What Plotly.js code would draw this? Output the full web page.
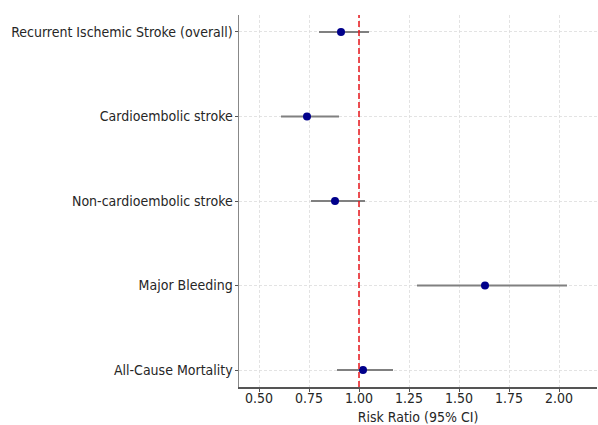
<!DOCTYPE html>
<html>
<head>
<meta charset="utf-8">
<script src="https://cdn.plot.ly/plotly-3.0.1.min.js"></script>
<style>html,body{margin:0;padding:0;background:#fff;}#chart{width:598px;height:425px;}</style>
</head>
<body>
<div id="chart"></div>
<script>
const outcomes = ["Recurrent Ischemic Stroke (overall)", "Cardioembolic stroke", "Non-cardioembolic stroke", "Major Bleeding", "All-Cause Mortality"];
const riskRatio = [0.91, 0.74, 0.88, 1.63, 1.02];
const ciLower = [0.80, 0.61, 0.76, 1.29, 0.89];
const ciUpper = [1.05, 0.90, 1.03, 2.04, 1.17];
const xTickVals = [0.50, 0.75, 1.00, 1.25, 1.50, 1.75, 2.00];
const xTickText = ["0.50", "0.75", "1.00", "1.25", "1.50", "1.75", "2.00"];

const n = outcomes.length;
const yPos = outcomes.map((_, i) => n - 1 - i);
const errPlus = riskRatio.map((v, i) => ciUpper[i] - v);
const errMinus = riskRatio.map((v, i) => v - ciLower[i]);

const font = "DejaVu Sans Condensed, DejaVu Sans, sans-serif";

const trace = {
  type: "scatter",
  mode: "markers",
  x: riskRatio,
  y: yPos,
  marker: {color: "#00008b", size: 8},
  error_x: {type: "data", symmetric: false, array: errPlus, arrayminus: errMinus,
            color: "#808080", thickness: 2, width: 0},
  hoverinfo: "skip",
  showlegend: false
};

const layout = {
  width: 598, height: 425,
  margin: {l: 239, r: 1, t: 15, b: 38},
  paper_bgcolor: "#ffffff", plot_bgcolor: "#ffffff",
  font: {family: font, size: 14, color: "#262626"},
  xaxis: {
    range: [0.4, 2.19],
    tickvals: xTickVals, ticktext: xTickText,
    showgrid: true, gridcolor: "#dcdcdc", gridwidth: 0.8, griddash: "3px,2px",
    zeroline: false, showline: true, linecolor: "#555555", linewidth: 1.5,
    ticks: "outside", ticklen: 3, tickcolor: "#555555",
    ticklabelstandoff: -5,
    tickfont: {family: font, size: 14, color: "#262626"},
    title: {text: "Risk Ratio (95% CI)", font: {family: font, size: 14, color: "#262626"}, standoff: 10}
  },
  yaxis: {
    range: [-0.2, 4.2],
    tickvals: yPos, ticktext: outcomes,
    showgrid: true, gridcolor: "#dcdcdc", gridwidth: 0.8, griddash: "3px,2px",
    zeroline: false, showline: true, linecolor: "#888888", linewidth: 1.5,
    ticks: "outside", ticklen: 3, tickcolor: "#555555",
    ticklabelstandoff: -1,
    tickfont: {family: font, size: 14, color: "#262626"}
  },
  shapes: [{
    type: "line", xref: "x", yref: "paper", x0: 1, x1: 1, y0: 0, y1: 1,
    line: {color: "#e8161b", width: 1.5, dash: "6px,3px"}
  }]
};

Plotly.newPlot("chart", [trace], layout, {displayModeBar: false, staticPlot: true});
</script>
</body>
</html>
